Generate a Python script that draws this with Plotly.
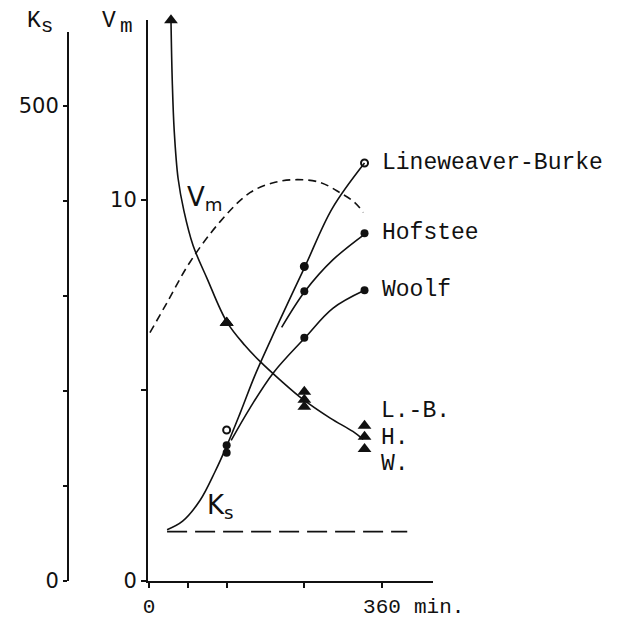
import plotly.graph_objects as go

# ---------------- data (time in min) ----------------
x_tickvals = [0, 360]
x_ticktext = ["0", "360"]
x_minor_ticks = [60, 120, 240]
ks_tickvals = [0, 500]
ks_ticktext = ["0", "500"]
ks_minor_ticks = [100, 200, 300, 400]
vm_tickvals = [0, 10]
vm_ticktext = ["0", "10"]
vm_minor_ticks = [5]

t_meas = [120, 240, 333]
# Ks estimates by method
ks_lb = [159, 331, 440]
ks_hof = [143, 305, 366]
ks_woolf = [135, 256, 306]

# fitted Ks curves
t_lb_curve = [28, 52, 79, 102, 120, 141, 164, 195, 241, 283, 333]
ks_lb_curve = [54, 63, 85, 115, 142, 177, 217, 264, 331, 392, 440]
t_hof_curve = [205, 241, 284, 335]
ks_hof_curve = [267, 305, 338, 366]
t_woolf_curve = [127, 156, 192, 241, 284, 333]
ks_woolf_curve = [148, 182, 219, 256, 287, 306]

# true Ks (dashed)
t_ks_true = [28, 399]
ks_true = [52, 52]

# Vm estimates (triangles)
t_vm_start = [34]
vm_start = [14.70]
vm_lb = [6.77, 4.96, 4.07]
vm_hof = [6.77, 4.75, 3.78]
vm_woolf = [6.77, 4.57, 3.46]

# fitted Vm curve
t_vm_curve = [34, 36, 39, 45, 54, 68, 90, 120, 148, 172, 202, 238, 280, 315, 331]
vm_curve = [14.70, 13.10, 11.80, 10.55, 9.70, 8.80, 7.92, 6.80, 6.18, 5.75, 5.28, 4.76, 4.27, 3.92, 3.71]

# true Vm (dashed)
t_vm_true = [1.5, 28, 63, 110, 156, 195, 229, 264, 295, 318, 331]
vm_true = [6.51, 7.30, 8.35, 9.42, 10.18, 10.45, 10.52, 10.45, 10.18, 9.92, 9.66]

# labels
method_names = ["Lineweaver-Burke", "Hofstee", "Woolf"]
short_names = ["L.-B.", "H.", "W."]
short_label_vm = [4.45, 3.75, 3.07]

# ---------------- figure ----------------
BLACK = "#111111"
MONO = "Liberation Mono, DejaVu Sans Mono, monospace"
HAND = "DejaVu Sans, Liberation Sans, sans-serif"

fig = go.Figure()

def line(x, y, yaxis, dash="solid", width=1.6, shape="spline"):
    fig.add_trace(go.Scatter(x=x, y=y, yaxis=yaxis, mode="lines",
                             line=dict(color=BLACK, width=width, dash=dash, shape=shape, smoothing=1.0),
                             showlegend=False, hoverinfo="skip"))

# Ks curves
line(t_lb_curve, ks_lb_curve, "y2")
line(t_hof_curve, ks_hof_curve, "y2")
line(t_woolf_curve, ks_woolf_curve, "y2")
line(t_ks_true, ks_true, "y2", dash="20px,8px", width=1.6, shape="linear")

# Vm curves
line(t_vm_curve, vm_curve, "y")
line(t_vm_true, vm_true, "y", dash="8px,5px", width=1.6)

# Ks markers
fig.add_trace(go.Scatter(x=t_meas, y=ks_lb, yaxis="y2", mode="markers",
                         marker=dict(symbol=["circle-open", "circle", "circle-open"], size=7,
                                     color=BLACK, line=dict(color=BLACK, width=2)),
                         showlegend=False))
fig.add_trace(go.Scatter(x=t_meas, y=ks_hof, yaxis="y2", mode="markers",
                         marker=dict(symbol="circle", size=8, color=BLACK), showlegend=False))
fig.add_trace(go.Scatter(x=t_meas, y=ks_woolf, yaxis="y2", mode="markers",
                         marker=dict(symbol="circle", size=8, color=BLACK), showlegend=False))

# Vm markers
for vals in (vm_lb, vm_hof, vm_woolf):
    fig.add_trace(go.Scatter(x=t_meas, y=vals, yaxis="y", mode="markers", cliponaxis=False,
                             marker=dict(symbol="triangle-up", size=12, color=BLACK),
                             showlegend=False))
fig.add_trace(go.Scatter(x=t_vm_start, y=vm_start, yaxis="y", mode="markers", cliponaxis=False,
                         marker=dict(symbol="triangle-up", size=12, color=BLACK), showlegend=False))

# ---------------- layout ----------------
W, H = 623, 621
L, R, T, B = 68, 190, 20, 40
pw = W - L - R
ph = H - T - B

def px_x(px):
    return (px - L) / pw

def px_y(py):
    return (H - B - py) / ph

x_range = [-1.5, 438.8]
vm_range = [0, ph / 38.15]
ks_top_px = 32
ks_dom_top = px_y(ks_top_px)
ks_range = [0, (H - B - ks_top_px) / 0.95]

def minor(vals, ln):
    return dict(tickmode="array", tickvals=vals, ticks="outside", ticklen=ln,
                tickwidth=1.5, tickcolor=BLACK, showgrid=False)

fig.update_layout(
    width=W, height=H,
    margin=dict(l=L, r=R, t=T, b=B, autoexpand=False),
    paper_bgcolor="white", plot_bgcolor="rgba(0,0,0,0)",
    showlegend=False,
    xaxis=dict(domain=[px_x(148), 1], range=x_range, anchor="y", automargin=False,
               showline=True, linecolor=BLACK, linewidth=2,
               ticks="outside", ticklen=5, tickwidth=1.5, tickcolor=BLACK,
               tickmode="array", tickvals=x_tickvals, ticktext=x_ticktext,
               minor=minor(x_minor_ticks, 5),
               tickfont=dict(family=MONO, size=21, color=BLACK),
               showgrid=False, zeroline=False),
    yaxis=dict(domain=[0, 1], range=vm_range, anchor="x", side="left", automargin=False,
               showline=True, linecolor=BLACK, linewidth=2,
               ticks="outside", ticklen=5, tickwidth=1.5, tickcolor=BLACK,
               tickmode="array", tickvals=vm_tickvals, ticktext=vm_ticktext,
               minor=minor(vm_minor_ticks, 5),
               tickfont=dict(family=HAND, size=21, color=BLACK),
               showgrid=False, zeroline=False),
    yaxis2=dict(domain=[0, ks_dom_top], range=ks_range, anchor="free", position=0, side="left",
                automargin=False,
                showline=True, linecolor=BLACK, linewidth=2,
                ticks="outside", ticklen=4, tickwidth=1.5, tickcolor=BLACK,
                tickmode="array", tickvals=ks_tickvals, ticktext=ks_ticktext,
                minor=minor(ks_minor_ticks, 4),
                tickfont=dict(family=HAND, size=21, color=BLACK),
                showgrid=False, zeroline=False),
)

ann = []
# axis titles (top-left)
ann.append(dict(text="K<sub><span style='font-size:21px'>s</span></sub>", xref="paper", yref="paper",
                x=px_x(25), y=px_y(6),
                xanchor="left", yanchor="top", showarrow=False,
                font=dict(family=MONO, size=23, color=BLACK)))
ann.append(dict(text="V<sub><span style='font-size:21px'>\u2009m</span></sub>", xref="paper", yref="paper",
                x=px_x(100), y=px_y(6),
                xanchor="left", yanchor="top", showarrow=False,
                font=dict(family=MONO, size=23, color=BLACK)))
# curve labels
ann.append(dict(text="V<sub>m</sub>", xref="paper", yref="paper", x=px_x(185), y=px_y(180),
                xanchor="left", yanchor="top", showarrow=False,
                font=dict(family=HAND, size=26, color=BLACK)))
ann.append(dict(text="K<sub>s</sub>", xref="paper", yref="paper", x=px_x(205), y=px_y(488),
                xanchor="left", yanchor="top", showarrow=False,
                font=dict(family=HAND, size=26, color=BLACK)))
# method labels (Ks)
for name, v in zip(method_names, (ks_lb[-1], ks_hof[-1], ks_woolf[-1])):
    ann.append(dict(text=name, xref="x", yref="y2", x=357, y=v, xanchor="left", yanchor="middle",
                    showarrow=False, font=dict(family=MONO, size=23, color=BLACK)))
# method labels (Vm)
for name, v in zip(short_names, short_label_vm):
    ann.append(dict(text=name, xref="x", yref="y", x=355, y=v, xanchor="left", yanchor="middle",
                    showarrow=False, font=dict(family=MONO, size=23, color=BLACK)))
# x unit
ann.append(dict(text="min.", xref="x", yref="paper", x=(412 - 149) / 0.6472, y=px_y(607),
                xanchor="left", yanchor="middle", showarrow=False,
                font=dict(family=MONO, size=21, color=BLACK)))
fig.update_layout(annotations=ann)

fig.write_html("out.html",
               config={"displayModeBar": False},
               post_script="document.body.style.margin='0';document.body.style.padding='0';")
